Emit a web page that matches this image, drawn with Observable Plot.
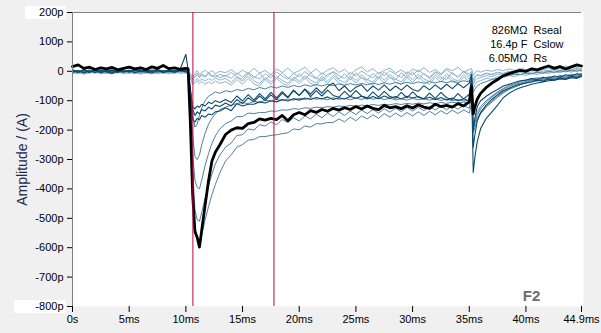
<!DOCTYPE html>
<html>
<head>
<meta charset="utf-8">
<script src="https://cdn.jsdelivr.net/npm/d3@7"></script>
<script src="https://cdn.jsdelivr.net/npm/@observablehq/plot@0.6"></script>
<style>
  html, body { margin: 0; padding: 0; background: #f0f0f0; }
  #chart { width: 601px; height: 333px; }
</style>
</head>
<body>
<div id="chart"></div>
<script>
// ---- time base (ms) ----
const times = [
  0,0.5,1,1.5,2,2.5,3,3.5,4,4.5,5,5.5,6,6.5,7,7.5,8,8.5,9,9.5,10,
  10.2,10.4,10.6,10.8,11,11.2,11.4,11.7,12,12.3,12.6,13,13.5,
  14,14.5,15,15.5,16,16.5,17,17.5,18,18.5,19,19.5,20,20.5,21,21.5,22,22.5,23,23.5,
  24,24.5,25,25.5,26,26.5,27,27.5,28,28.5,29,29.5,30,30.5,31,31.5,32,32.5,33,33.5,34,34.5,35,
  35.2,35.35,35.5,35.7,
  36,36.5,37,37.5,38,38.5,39,39.5,40,40.5,41,41.5,42,42.5,43,43.5,44,44.5,44.9
];

// ---- traces (pA) ----
const traceBlack = [
  16,22,10,14,6,12,8,13,5,10,14,8,12,6,15,10,20,9,12,7,10,
  8,-180,-420,-545,-565,-598,-540,-455,-372,-305,-275,-250,-215,
  -200,-192,-194,-178,-174,-162,-166,-160,-164,-150,
  -168,-148,-140,-148,-134,-140,-130,-136,-126,-132,
  -124,-130,-120,-128,-118,-126,-130,-116,-124,-120,
  -127,-117,-125,-114,-122,-126,-112,-120,-116,-122,
  -110,-118,-104,
  -50,-145,-120,-95,
  -75,-55,-40,-28,-15,-8,-2,3,0,8,5,12,18,10,16,8,15,22,18
];
const traceDark1 = [
  2,-4,5,-2,3,-5,1,4,-3,2,-1,6,-2,3,0,5,-3,4,1,7,58,
  5,-60,-130,-150,-138,-145,-130,-135,-122,-128,-115,-120,-108,
  -118,-96,-110,-90,-104,-84,-100,-80,-96,-74,
  -90,-66,-82,-60,-78,-56,-74,-52,-40,-66,
  -50,-70,-54,-46,-68,-50,-64,-46,-66,-50,
  -64,-47,-62,-68,-49,-63,-46,-61,-44,-59,
  -42,-56,-40,
  -10,-200,-160,-120,
  -100,-85,-72,-62,-50,-44,-38,-32,-30,-25,-28,-20,-24,-16,-20,-12,-16,-8,-12
];
const traceDark2 = [
  -3,2,-6,1,-4,3,-2,-7,0,-3,4,-5,1,-2,-6,2,-4,0,-3,3,-2,
  -5,-90,-165,-172,-160,-165,-150,-156,-145,-148,-138,-135,-124,
  -134,-110,-118,-112,-112,-104,-108,-100,-104,-96,
  -101,-93,-98,-91,-96,-89,-94,-87,-96,-90,
  -94,-86,-92,-85,-94,-86,-93,-84,-92,-86,
  -94,-85,-91,-86,-94,-88,-96,-89,-98,-91,
  -100,-93,-101,
  -30,-344,-290,-240,
  -195,-160,-138,-115,-90,-75,-64,-56,-50,-44,-40,-36,-32,-30,-26,-28,-22,-24,-18
];
const traceDark3 = [
  5,-1,3,-4,6,0,2,-3,4,1,-2,3,5,-1,2,6,0,3,-2,4,2,
  0,-70,-120,-128,-118,-122,-112,-118,-105,-110,-100,-106,-96,
  -106,-84,-101,-79,-98,-76,-94,-72,-90,-69,
  -88,-64,-82,-62,-86,-66,-84,-64,-82,-88,
  -68,-86,-66,-84,-90,-70,-88,-68,-86,-92,
  -72,-90,-70,-88,-94,-74,-92,-72,-90,-96,
  -76,-94,-78,
  -20,-258,-215,-170,
  -140,-115,-95,-80,-66,-58,-50,-44,-40,-36,-30,-34,-26,-30,-22,-26,-18,-22,-15
];
const traceMid1 = [
  4,-2,6,0,3,-4,2,5,-1,3,-3,4,1,-2,5,0,3,-3,2,6,3,
  0,-150,-400,-530,-565,-575,-555,-505,-460,-420,-385,-345,-305,
  -284,-258,-249,-234,-232,-222,-222,-218,-216,-212,
  -209,-196,-199,-186,-190,-178,-179,-174,-174,-162,
  -172,-156,-168,-152,-162,-148,-160,-144,-156,-142,
  -154,-140,-152,-138,-150,-136,-148,-134,-146,-132,
  -144,-131,-142,
  -110,-190,-175,-160,
  -140,-118,-100,-85,-70,-60,-50,-42,-38,-30,-34,-26,-30,-22,-26,-18,-22,-15,-18
];
const traceMid2 = [
  -1,3,-4,2,-2,5,-3,1,4,-2,2,-5,3,0,-3,4,-1,2,-4,1,2,
  2,-120,-330,-470,-505,-510,-480,-430,-390,-350,-315,-285,-258,
  -244,-218,-216,-196,-200,-182,-186,-172,-182,-164,
  -174,-158,-169,-152,-162,-146,-158,-142,-154,-138,
  -150,-135,-147,-132,-144,-130,-142,-127,-139,-125,
  -137,-123,-135,-122,-134,-120,-132,-119,-131,-117,
  -129,-116,-126,
  -90,-210,-190,-165,
  -145,-122,-105,-88,-74,-62,-54,-46,-40,-36,-30,-33,-25,-28,-20,-24,-16,-20,-12
];
const traceMid3 = [
  2,-3,1,4,-2,0,5,-4,2,-1,3,0,-3,4,1,-2,3,-1,4,-2,1,
  0,-100,-280,-370,-395,-400,-370,-320,-280,-245,-220,-196,-178,
  -169,-154,-154,-142,-144,-140,-140,-135,-136,-131,
  -132,-127,-129,-124,-126,-122,-124,-120,-122,-118,
  -120,-116,-119,-115,-117,-113,-116,-112,-114,-110,
  -113,-109,-112,-108,-111,-107,-110,-106,-109,-105,
  -108,-104,-109,
  -70,-180,-160,-140,
  -120,-100,-84,-70,-58,-48,-42,-35,-30,-26,-22,-25,-18,-21,-14,-17,-10,-14,-8
];
const traceMid4 = [
  -3,1,-2,5,0,-4,3,-1,-5,2,-2,4,-1,-3,2,-4,1,5,-2,2,0,
  3,-80,-220,-290,-300,-285,-250,-210,-180,-160,-145,-130,-122,
  -115,-110,-106,-110,-102,-106,-98,-102,-96,-100,
  -94,-98,-92,-96,-90,-95,-92,-97,-90,-95,
  -92,-97,-91,-96,-90,-95,-91,-96,-92,-97,
  -93,-98,-92,-97,-93,-98,-94,-99,-95,-100,
  -96,-101,-98,
  -60,-200,-175,-150,
  -128,-105,-88,-74,-62,-52,-45,-40,-34,-30,-26,-30,-22,-26,-18,-22,-14,-18,-10
];
const traceMid5 = [
  1,-4,3,-1,2,-3,0,3,-2,4,-1,-3,2,1,-2,3,-4,0,3,-1,1,
  0,-60,-150,-190,-180,-150,-125,-100,-85,-78,-70,-75,-66,
  -70,-62,-66,-58,-63,-55,-60,-52,-57,-50,
  -55,-48,-53,-46,-51,-45,-50,-44,-49,-43,
  -48,-42,-47,-41,-46,-40,-45,-39,-44,-38,
  -43,-37,-42,-36,-41,-35,-40,-34,-39,-33,
  -38,-32,-36,
  -20,-70,-60,-50,
  -42,-35,-28,-24,-18,-14,-10,-12,-6,-9,-3,-7,0,-4,2,-2,4,0,5
];
const traceLight1 = [
  -2,3,-5,1,-3,4,-1,-4,2,-2,1,-6,3,-1,-4,2,-3,1,-2,3,0,
  -2,-8,-18,-8,2,-10,-4,4,-6,2,-8,0,-5,
  6,-10,4,-8,10,-6,3,-12,8,-4,
  11,-7,2,14,-6,8,-10,4,12,-4,
  7,-11,5,15,-2,9,-8,3,11,-6,
  5,-9,8,-1,12,-4,6,-8,10,2,
  14,-3,6,
  10,-15,-5,2,
  -3,4,0,6,2,8,3,10,5,12,6,14,8,16,10,18,12,20,15
];
const traceLight2 = [
  -6,-1,-8,-3,-7,0,-5,-9,-2,-6,-3,-8,-1,-5,-9,-2,-6,-3,-7,-1,-4,
  -5,-15,-30,-20,-12,-22,-14,-20,-10,-18,-12,-22,-14,
  -24,-6,-20,-4,-18,-26,-8,-22,-2,-16,
  -27,-7,-19,-1,-15,-25,-5,-18,0,-14,
  -24,-4,-16,1,-12,-22,-3,-15,2,-11,
  -21,-2,-13,4,-9,-20,-1,-12,5,-8,
  -18,0,-10,
  0,-30,-18,-12,
  -14,-6,-10,-3,-7,0,-4,3,-2,5,0,6,1,8,2,9,4,10,6
];
const traceLight3 = [
  -4,-9,-2,-7,1,-5,-8,-3,-6,0,-7,-4,-9,-2,-5,-8,-1,-6,-3,-7,-5,
  -6,-20,-38,-32,-24,-34,-26,-33,-25,-31,-22,-30,-24,
  -38,-20,-34,-16,-33,-42,-21,-36,-17,-31,
  -41,-19,-34,-15,-30,-40,-17,-33,-14,-30,
  -38,-16,-31,-12,-28,-37,-14,-30,-11,-27,
  -36,-13,-29,-10,-26,-35,-12,-28,-9,-25,
  -33,-11,-27,
  -12,-45,-32,-24,
  -22,-15,-18,-10,-14,-7,-11,-4,-8,-2,-6,1,-4,3,-2,5,0,6,2
];
const traceLight4 = [
  -8,-3,-10,-5,-2,-9,-4,-7,-1,-8,-5,-3,-9,-6,-2,-7,-4,-8,-5,-2,-6,
  -8,-25,-45,-40,-32,-42,-35,-44,-36,-42,-33,-41,-35,
  -47,-28,-44,-24,-43,-50,-27,-44,-24,-41,
  -49,-26,-42,-22,-40,-48,-24,-41,-21,-39,
  -47,-23,-40,-20,-38,-46,-22,-39,-19,-37,
  -45,-21,-38,-18,-36,-44,-20,-37,-17,-35,
  -43,-19,-36,
  -20,-60,-45,-35,
  -32,-24,-27,-18,-22,-14,-18,-10,-14,-7,-11,-4,-8,-1,-5,2,-3,4,0
];
const traceLight5 = [
  -3,1,-6,-2,2,-4,0,-5,1,-3,-6,0,-2,-5,1,-3,-7,-1,-4,0,-3,
  -4,-12,-26,-14,-6,-18,-9,-16,-5,-14,-20,-10,-17,
  -4,-19,-27,-8,-24,-5,-30,-10,-25,-4,
  -22,-31,-8,-27,-6,-23,-33,-10,-3,-26,
  -9,-28,-5,-23,-30,-7,-25,-2,-21,-29,
  -5,-22,-1,-27,-8,-25,-3,-20,-28,-4,
  -21,0,-18,
  -5,-38,-22,-12,
  -16,-8,-12,-4,-9,-1,-6,2,-3,4,-1,7,1,9,3,11,5,13,8
];

// cursors (ms)
const cursorTimes = [10.62, 17.77];

// ticks
const xTicks = [0, 5, 10, 15, 20, 25, 30, 35, 40, 44.9];
const xTickLabels = ["0s","5ms","10ms","15ms","20ms","25ms","30ms","35ms","40ms","44.9ms"];
const yTicks = [-800,-700,-600,-500,-400,-300,-200,-100,0,100,200];
const yTickLabels = ["-800p","-700p","-600p","-500p","-400p","-300p","-200p","-100p","0","100p","200p"];

// annotations
const annoValues = ["826MΩ", "16.4p F", "6.05MΩ"];
const annoNames = ["Rseal", "Cslow", "Rs"];
const axisTitle = "Amplitude / (A)";
const tag = "F2";

// ---- build table ----
const traces = [
  {name: "L1", group: "light", values: traceLight1},
  {name: "L2", group: "light", values: traceLight2},
  {name: "L3", group: "light", values: traceLight3},
  {name: "L4", group: "light", values: traceLight4},
  {name: "L5", group: "light", values: traceLight5},
  {name: "M1", group: "mid", values: traceMid1},
  {name: "M2", group: "mid", values: traceMid2},
  {name: "M3", group: "mid", values: traceMid3},
  {name: "M4", group: "mid", values: traceMid4},
  {name: "M5", group: "mid", values: traceMid5},
  {name: "D1", group: "dark", values: traceDark1},
  {name: "D2", group: "dark", values: traceDark2},
  {name: "D3", group: "dark", values: traceDark3},
  {name: "K", group: "black", values: traceBlack}
];
for (const tr of traces) {
  if (tr.values.length !== times.length) throw new Error(tr.name + " has " + tr.values.length + " values, expected " + times.length);
}
const rows = traces.flatMap(tr => times.map((t, i) => ({t, v: tr.values[i], name: tr.name, group: tr.group})));
const byGroup = g => rows.filter(d => d.group === g);

const xLabelOf = new Map(xTicks.map((t, i) => [t, xTickLabels[i]]));
const yLabelOf = new Map(yTicks.map((t, i) => [t, yTickLabels[i]]));

const chart = Plot.plot({
  width: 601,
  height: 333,
  marginLeft: 72,
  marginRight: 20,
  marginTop: 12,
  marginBottom: 27,
  style: {background: "#f0f0f0", fontFamily: "'Liberation Sans', Arial, sans-serif", fontSize: "11px", color: "black", overflow: "visible"},
  x: {domain: [0, 44.9]},
  y: {domain: [-800, 200]},
  marks: [
    Plot.frame({fill: "white", stroke: null, insetRight: -2}),
    Plot.line(byGroup("light"), {x: "t", y: "v", z: "name", stroke: "#8fb4ca", strokeWidth: 1}),
    Plot.line(byGroup("mid"), {x: "t", y: "v", z: "name", stroke: "#4f80a2", strokeWidth: 1}),
    Plot.line(byGroup("dark"), {x: "t", y: "v", z: "name", stroke: "#0e4a6d", strokeWidth: 1.1}),
    Plot.line(byGroup("black"), {x: "t", y: "v", z: "name", stroke: "#000", strokeWidth: 2.8}),
    Plot.ruleX([0], {stroke: "#808080"}),
    Plot.ruleY([200], {stroke: "#808080"}),
    Plot.ruleX(cursorTimes, {stroke: "#c8003c", strokeWidth: 1}),
    Plot.axisY({ticks: yTicks, tickFormat: d => yLabelOf.get(d), tickSize: 5, tickPadding: 4, label: null}),
    Plot.axisX({ticks: xTicks, tickFormat: d => xLabelOf.get(d), tickSize: 6, tickPadding: 3, label: null}),
    Plot.text([axisTitle], {frameAnchor: "left", dx: -50, rotate: -90, fontSize: 14, fill: "#1e2850", textAnchor: "middle"}),
    Plot.text([annoValues.join("\n")], {frameAnchor: "top-right", textAnchor: "end", lineAnchor: "top", lineHeight: 1.27, dx: -54, dy: 12, fontSize: 11, fill: "#000"}),
    Plot.text([annoNames.join("\n")], {frameAnchor: "top-right", textAnchor: "start", lineAnchor: "top", lineHeight: 1.27, dx: -48, dy: 12, fontSize: 11, fill: "#000"}),
    Plot.text([tag], {frameAnchor: "bottom-right", textAnchor: "middle", lineAnchor: "middle", dx: -50, dy: -10, fontSize: 15, fontWeight: "bold", fill: "#6d6d6d"})
  ]
});
document.getElementById("chart").append(chart);

// white label boxes behind the extreme y tick labels
const labelBoxes = [{label: "200p", padLeft: 14}, {label: "-800p", padLeft: 21}];
const svgRect = chart.getBoundingClientRect();
for (const box of labelBoxes) {
  const txt = Array.from(chart.querySelectorAll("text")).find(n => n.textContent === box.label);
  if (!txt) continue;
  const r = txt.getBoundingClientRect();
  const rect = document.createElementNS("http://www.w3.org/2000/svg", "rect");
  rect.setAttribute("x", r.left - svgRect.left - box.padLeft);
  rect.setAttribute("y", r.top - svgRect.top);
  rect.setAttribute("width", r.width + box.padLeft + 2);
  rect.setAttribute("height", r.height + 1);
  rect.setAttribute("fill", "white");
  const firstG = chart.querySelector("g");
  chart.insertBefore(rect, firstG);
}
</script>
</body>
</html>
